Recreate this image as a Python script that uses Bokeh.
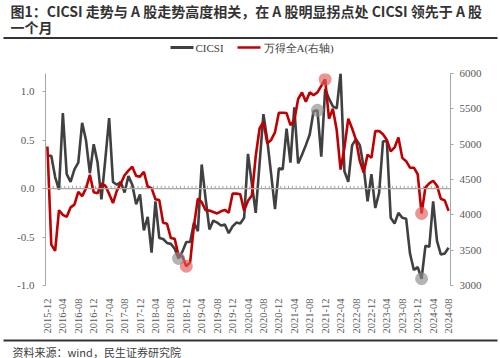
import pandas as pd
from math import pi
from bokeh.plotting import figure
from bokeh.layouts import column
from bokeh.models import (Range1d, LinearAxis, FixedTicker, NumeralTickFormatter, Span)
from bokeh.core.properties import value
from bokeh.embed import file_html
from bokeh.resources import INLINE

# ---------------- data ----------------
months = [str(m) for m in pd.period_range("2015-12", "2024-08", freq="M")]

tick_labels = ["2015-12", "2016-04", "2016-08", "2016-12", "2017-04", "2017-08",
               "2017-12", "2018-04", "2018-08", "2018-12", "2019-04", "2019-08",
               "2019-12", "2020-04", "2020-08", "2020-12", "2021-04", "2021-08",
               "2021-12", "2022-04", "2022-08", "2022-12", "2023-04", "2023-08",
               "2023-12", "2024-04", "2024-08"]

cicsi = [0.34, 0.34, 0.12, -0.01, 0.78, 0.15, 0.07, 0.20, 0.27, 0.68,
         0.50, 0.16, 0.46, 0.27, -0.11, 0.30, 0.73, 0.07, 0.04, 0.07,
         -0.04, 0.13, 0.04, -0.16, -0.06, -0.43, -0.29, -0.66, -0.13, -0.51,
         -0.52, -0.56, -0.57, -0.62, -0.72, -0.65, -0.55, -0.55, -0.35, -0.44,
         0.25, -0.10, -0.42, -0.33, -0.35, -0.38, -0.37, -0.46, -0.39, -0.35,
         -0.36, -0.30, 0.36, 0.05, -0.25, 0.26, 0.77, 0.50, 0.15, -0.21,
         0.21, 0.20, 0.62, 0.27, 0.84, 0.26, 0.35, 0.45, 0.56, 0.80,
         0.81, 0.33, 1.03, 0.93, 0.85, 0.83, 1.19, 0.18, 0.07, 0.45,
         0.51, 0.45, 0.22, -0.13, 0.15, -0.20, -0.04, 0.49, 0.49, -0.30,
         -0.36, -0.25, -0.30, -0.31, -0.67, -0.84, -0.81, -0.93, -0.59, -0.60,
         -0.13, -0.54, -0.68, -0.67, -0.61]

wind_a = [4968, 3579, 3490, 4065, 4000, 3972, 4105, 4144, 4325, 4265,
          4375, 4565, 4320, 4306, 4440, 4412, 4296, 4167, 4343, 4440,
          4560, 4625, 4680, 4551, 4540, 4610, 4400, 4378, 4220, 4208,
          3888, 3875, 3671, 3660, 3420, 3410, 3272, 3330, 3850, 4230,
          4180, 4065, 4060, 4040, 4020, 4050, 4070, 4030, 4300, 4300,
          4290, 4060, 4200, 4273, 4829, 5222, 5315, 5014, 5060, 5167,
          5445, 5445, 5440, 5269, 5338, 5639, 5732, 5602, 5732, 5695,
          5732, 5824, 5917, 5361, 5500, 5200, 4640, 4950, 5361, 5222,
          5060, 4759, 4597, 4852, 4806, 5185, 5185, 5139, 5060, 4898,
          4954, 5093, 4806, 4759, 4667, 4667, 4574, 4019, 4389, 4445,
          4482, 4412, 4227, 4204, 4056]

cicsi_marks = ["2018-10", "2021-10", "2024-01"]
wind_marks = ["2018-12", "2021-12", "2024-01"]

series_names = ["CICSI", "万得全A(右轴)"]
title_lines = ["图1：CICSI 走势与 A 股走势高度相关，在 A 股明显拐点处 CICSI 领先于 A 股",
               "一个月"]
source_text = "资料来源：wind，民生证券研究院"

# ---------------- styling ----------------
W = 500
TITLE_H, LEG_H, MAIN_H, FOOT_H = 36, 30, 270, 22
SERIF = "Liberation Serif"
CJK = "Noto Sans CJK SC"
GRAY = "#404040"
RED = "#c00000"
RULE = "#333333"


def blank_fig(h):
    f = figure(width=W, height=h, output_backend="svg", toolbar_location=None,
               x_range=Range1d(0, W), y_range=Range1d(0, h),
               x_axis_location=None, y_axis_location=None,
               min_border_left=0, min_border_right=0, min_border_top=0,
               min_border_bottom=0, outline_line_color=None, frame_align=False,
               background_fill_color="white", border_fill_color="white")
    f.grid.visible = False
    return f


# ---------------- title ----------------
title_fig = blank_fig(TITLE_H)
title_fig.text(x=[10, 10], y=[TITLE_H - 10.5, TITLE_H - 26.5], text=title_lines,
               text_font=value(CJK), text_font_size=value("14px"),
               text_font_style="bold", text_color="#333333",
               text_baseline="middle", text_align="left")

# ---------------- rule + legend ----------------
leg = blank_fig(LEG_H)
ry = LEG_H - 1.5
leg.segment(x0=[3, 170, 237], x1=[497, 193, 260], y0=[ry, LEG_H - 11, LEG_H - 11],
            y1=[ry, LEG_H - 11, LEG_H - 11], line_color=[RULE, GRAY, RED],
            line_width=[2.2, 3, 2.5])
leg.text(x=[195, 263], y=[LEG_H - 11.5] * 2, text=series_names,
         text_font=value(SERIF), text_font_size=value("11px"),
         text_color="#404040", text_baseline="middle", text_align="left")

# ---------------- main chart ----------------
FL, FR, FT, FB = 45, 50, 7, 46
x = list(range(len(months)))

p = figure(width=W, height=MAIN_H, output_backend="svg", toolbar_location=None,
           x_range=Range1d(-0.5, len(months) - 0.5), y_range=Range1d(-1.0, 1.19),
           min_border_left=FL, min_border_right=FR, min_border_top=FT,
           min_border_bottom=FB, outline_line_color=None, frame_align=False,
           background_fill_color="white", border_fill_color="white")
p.grid.visible = False
p.extra_y_ranges = {"right": Range1d(3000, 6000)}

xa = p.xaxis[0]
tick_pos = [months.index(t) for t in tick_labels]
xa.ticker = FixedTicker(ticks=tick_pos)
xa.major_label_overrides = {pos: lab for pos, lab in zip(tick_pos, tick_labels)}
xa.major_label_orientation = pi / 2
xa.axis_line_color = None
xa.major_tick_line_color = None
xa.minor_tick_line_color = None
xa.major_label_text_font = SERIF
xa.major_label_text_font_size = "10.5px"
xa.major_label_text_color = "#595959"
xa.major_label_standoff = 7

ya = p.yaxis[0]
ya.ticker = FixedTicker(ticks=[-1.0, -0.5, 0.0, 0.5, 1.0])
ya.formatter = NumeralTickFormatter(format="0.0")
ya.axis_line_color = "#a6a6a6"
ya.major_tick_line_color = "#a6a6a6"
ya.major_tick_out = 3
ya.major_tick_in = 0
ya.minor_tick_line_color = None
ya.major_label_text_font = SERIF
ya.major_label_text_font_size = "11px"
ya.major_label_text_color = "#595959"
ya.major_label_standoff = 8

ra = LinearAxis(y_range_name="right", ticker=FixedTicker(ticks=list(range(3000, 6001, 500))))
ra.axis_line_color = "#a6a6a6"
ra.major_tick_line_color = "#a6a6a6"
ra.major_tick_out = 3
ra.major_tick_in = 0
ra.minor_tick_line_color = None
ra.major_label_text_font = SERIF
ra.major_label_text_font_size = "11px"
ra.major_label_text_color = "#595959"
ra.major_label_standoff = 6
p.add_layout(ra, "right")

# zero line with category ticks
p.add_layout(Span(location=0, dimension="width", line_color="#a6a6a6", line_width=1.2))
bounds = [i - 0.5 for i in range(len(months) + 1)]
p.segment(x0=bounds, x1=bounds, y0=[0] * len(bounds), y1=[0.03] * len(bounds),
          line_color="#a6a6a6", line_width=1)

p.line(x, cicsi, line_color=GRAY, line_width=2.6)
p.line(x, wind_a, line_color=RED, line_width=2.6, y_range_name="right")

ci = [months.index(m) for m in cicsi_marks]
wi = [months.index(m) for m in wind_marks]
p.scatter([x[i] for i in ci], [cicsi[i] for i in ci], size=13, marker="circle",
          fill_color="#8c8c8c", fill_alpha=0.65, line_color=None)
p.scatter([x[i] for i in wi], [wind_a[i] for i in wi], size=13, marker="circle",
          fill_color="#e05a5a", fill_alpha=0.65, line_color=None,
          y_range_name="right")

# ---------------- footer: rule + source ----------------
foot = blank_fig(FOOT_H)
foot.segment(x0=[3], x1=[497], y0=[FOOT_H - 4], y1=[FOOT_H - 4],
             line_color=[RULE], line_width=[2])
foot.text(x=[12], y=[FOOT_H - 15], text=[source_text], text_font=value(CJK),
          text_font_size=value("11px"), text_color="#404040",
          text_baseline="middle", text_align="left")

layout = column(title_fig, leg, p, foot, spacing=0)
open("out.html", "w").write(file_html(layout, INLINE))
